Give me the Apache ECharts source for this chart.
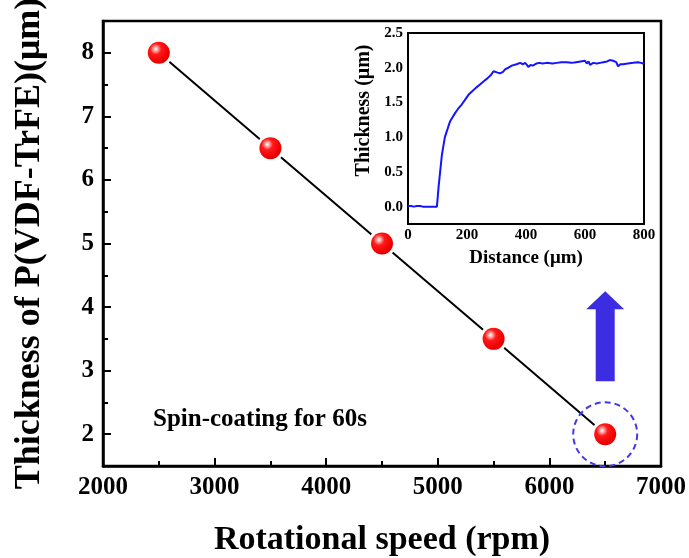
<!DOCTYPE html>
<html><head><meta charset="utf-8">
<script src="https://cdn.jsdelivr.net/npm/echarts@6/dist/echarts.min.js"></script>
<style>html,body{margin:0;padding:0;background:#fff}#c{width:689px;height:558px}</style>
</head><body><div id="c"></div>
<script>
// Main chart data
var speeds = [2500, 3500, 4500, 5500, 6500];
var thickness = [8, 6.5, 5, 3.5, 2];
// Main y-axis ticks
var mainYMajor = [2, 3, 4, 5, 6, 7, 8];
var mainYMinor = [2.5, 3.5, 4.5, 5.5, 6.5, 7.5];
// Highlight annotations (circle around last point, arrow above it)
var circlePoint = [6500, 2];
var arrowPoint = [6500, 3.54];
// Inset profile data (Distance µm, Thickness µm)
var insetDistance = [0, 10, 20, 30, 41, 50, 64, 80, 98, 104, 115, 125, 132, 138, 143, 150, 160, 170, 182, 192, 205, 215, 230, 244, 258, 270, 282, 290, 296, 304, 312, 322, 330, 340, 352, 368, 380, 390, 397, 403, 408, 415, 423, 435, 446, 456, 470, 490, 504, 520, 537, 555, 570, 585, 600, 606, 612, 617, 628, 640, 651, 662, 675, 684, 695, 701, 706, 712, 720, 729, 745, 763, 780, 790, 797, 800];
var insetThick = [0.01, 0.01, 0.0, 0.01, 0.01, 0.0, 0.0, 0.0, 0.0, 0.3, 0.75, 1.0, 1.09, 1.17, 1.23, 1.28, 1.35, 1.41, 1.47, 1.53, 1.61, 1.65, 1.71, 1.76, 1.81, 1.85, 1.9, 1.95, 1.96, 1.93, 1.92, 1.94, 1.98, 2.0, 2.03, 2.05, 2.07, 2.05, 2.07, 2.04, 2.01, 2.04, 2.03, 2.06, 2.07, 2.06, 2.07, 2.06, 2.07, 2.08, 2.08, 2.07, 2.08, 2.09, 2.1, 2.06, 2.09, 2.04, 2.07, 2.06, 2.07, 2.08, 2.09, 2.11, 2.1, 2.1, 2.08, 2.02, 2.05, 2.05, 2.06, 2.07, 2.08, 2.07, 2.06, 2.08];
// Inset y-axis ticks
var insetYMajor = [0, 0.5, 1, 1.5, 2, 2.5];
var insetYMinor = [-0.25, 0.25, 0.75, 1.25, 1.75, 2.25];

var insetData = insetDistance.map(function (d, i) { return [d, insetThick[i]]; });
var mainData = speeds.map(function (s, i) { return [s, thickness[i]]; });

var FONT = '"Liberation Serif", "Times New Roman", serif';
var sphere = {
  type: 'radial', x: 0.36, y: 0.33, r: 0.72,
  colorStops: [
    { offset: 0, color: '#ffffff' },
    { offset: 0.12, color: '#ffb0b0' },
    { offset: 0.35, color: '#ff1a1a' },
    { offset: 0.8, color: '#f00000' },
    { offset: 1, color: '#d80000' }
  ]
};
var mainAxisLine = { show: true, onZero: false, lineStyle: { color: '#000', width: 2.5 } };
var insetAxisLine = { show: true, onZero: false, lineStyle: { color: '#000', width: 2 } };
var tickStyle = { width: 2, color: '#000' };

var chart = echarts.init(document.getElementById('c'), null, { renderer: 'canvas' });
chart.setOption({
  animation: false,
  backgroundColor: '#fff',
  grid: [
    { left: 103, right: 28, top: 21, bottom: 92, show: true, borderColor: '#000', borderWidth: 2.5, backgroundColor: 'transparent', outerBoundsMode: 'none', containLabel: false },
    { left: 408, right: 45, top: 33, bottom: 334, show: true, borderColor: '#000', borderWidth: 2, backgroundColor: '#fff', z: 5, outerBoundsMode: 'none', containLabel: false }
  ],
  xAxis: [
    {
      gridIndex: 0, type: 'value', min: 2000, max: 7000, interval: 1000,
      axisLine: mainAxisLine,
      axisTick: { show: true, inside: true, length: 8, lineStyle: tickStyle },
      minorTick: { show: true, splitNumber: 2, length: 5, lineStyle: tickStyle },
      splitLine: { show: false },
      axisLabel: { margin: 9, color: '#000', fontFamily: FONT, fontWeight: 'bold', fontSize: 25,
        formatter: function (v) { return String(v); } },
      name: 'Rotational speed (rpm)', nameLocation: 'middle', nameGap: 57,
      nameTextStyle: { color: '#000', fontFamily: FONT, fontWeight: 'bold', fontSize: 34 }
    },
    {
      gridIndex: 1, type: 'value', min: 0, max: 800, interval: 200,
      axisLine: insetAxisLine,
      axisTick: { show: true, inside: true, length: 5, lineStyle: { width: 1.5, color: '#000' } },
      minorTick: { show: true, splitNumber: 2, length: 3, lineStyle: { width: 1.5, color: '#000' } },
      splitLine: { show: false },
      axisLabel: { margin: 4, color: '#000', fontFamily: FONT, fontWeight: 'bold', fontSize: 15 },
      name: 'Distance (μm)', nameLocation: 'middle', nameGap: 25,
      nameTextStyle: { color: '#000', fontFamily: FONT, fontWeight: 'bold', fontSize: 19 }
    }
  ],
  yAxis: [
    {
      gridIndex: 0, type: 'value', min: 1.5, max: 8.5, interval: 0.5,
      axisLine: mainAxisLine,
      axisTick: { show: true, inside: true, length: 8, lineStyle: tickStyle, customValues: mainYMajor },
      splitLine: { show: false },
      axisLabel: { margin: 9, color: '#000', fontFamily: FONT, fontWeight: 'bold', fontSize: 25,
        customValues: mainYMajor },
      name: 'Thickness of P(VDF-TrFE)(μm)', nameLocation: 'middle', nameGap: 55,
      nameTextStyle: { color: '#000', fontFamily: FONT, fontWeight: 'bold', fontSize: 36 }
    },
    {
      gridIndex: 0, type: 'value', min: 1.5, max: 8.5, interval: 0.5, position: 'left',
      axisLine: { show: false },
      axisTick: { show: true, inside: true, length: 5, lineStyle: tickStyle, customValues: mainYMinor },
      splitLine: { show: false },
      axisLabel: { show: false }
    },
    {
      gridIndex: 1, type: 'value', min: -0.25, max: 2.5, interval: 0.25,
      axisLine: insetAxisLine,
      axisTick: { show: true, inside: true, length: 5, lineStyle: { width: 1.5, color: '#000' }, customValues: insetYMajor },
      splitLine: { show: false },
      axisLabel: { margin: 5, color: '#000', fontFamily: FONT, fontWeight: 'bold', fontSize: 15,
        customValues: insetYMajor,
        formatter: function (v) { return v.toFixed(1); } },
      name: 'Thickness (μm)', nameLocation: 'middle', nameGap: 34,
      nameTextStyle: { color: '#000', fontFamily: FONT, fontWeight: 'bold', fontSize: 20, padding: [0, 0, 0, 36] }
    },
    {
      gridIndex: 1, type: 'value', min: -0.25, max: 2.5, interval: 0.25, position: 'left',
      axisLine: { show: false },
      axisTick: { show: true, inside: true, length: 3, lineStyle: { width: 1.5, color: '#000' }, customValues: insetYMinor },
      splitLine: { show: false },
      axisLabel: { show: false }
    }
  ],
  series: [
    {
      type: 'line', xAxisIndex: 0, yAxisIndex: 0, data: mainData,
      showSymbol: false, lineStyle: { color: '#000', width: 2 }, z: 2, silent: true
    },
    {
      type: 'scatter', xAxisIndex: 0, yAxisIndex: 0, data: mainData,
      symbol: 'circle', symbolSize: 28,
      itemStyle: { color: '#fff', opacity: 1 }, z: 3, silent: true
    },
    {
      type: 'scatter', xAxisIndex: 0, yAxisIndex: 0, data: mainData,
      symbol: 'circle', symbolSize: 22,
      itemStyle: { color: sphere, opacity: 1 }, z: 4
    },
    {
      type: 'scatter', xAxisIndex: 0, yAxisIndex: 0, data: [circlePoint],
      symbol: 'circle', symbolSize: 64,
      itemStyle: { color: 'rgba(0,0,0,0)', opacity: 1, borderColor: '#4437ec', borderWidth: 2, borderType: [6, 4] }, z: 4
    },
    {
      type: 'scatter', xAxisIndex: 0, yAxisIndex: 0, data: [arrowPoint],
      symbol: 'path://M19,0 L38,18 L28.5,18 L28.5,90 L9.5,90 L9.5,18 L0,18 Z',
      symbolSize: [38, 90], symbolKeepAspect: false,
      itemStyle: { color: '#3c2de3', opacity: 1 }, z: 4
    },
    {
      type: 'line', xAxisIndex: 1, yAxisIndex: 2, data: insetData,
      showSymbol: false, lineStyle: { color: '#1414ff', width: 2 }, z: 6
    }
  ],
  graphic: [
    { type: 'text', left: 153, top: 407, z: 10,
      style: { text: 'Spin-coating for 60s', fill: '#000', font: 'bold 25px ' + FONT } }
  ]
});
</script>
</body></html>
